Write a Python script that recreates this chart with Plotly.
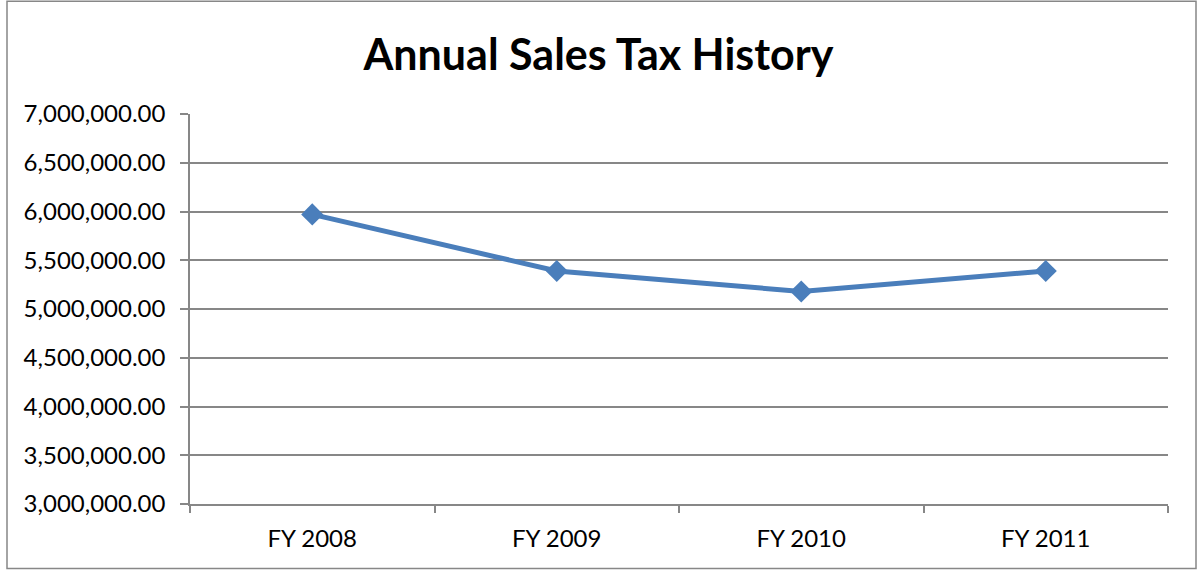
import plotly.graph_objects as go

categories = ["FY 2008", "FY 2009", "FY 2010", "FY 2011"]
sales_tax = [5970000, 5390000, 5180000, 5390000]
y_ticks = [3000000 + 500000 * i for i in range(9)]

W, H = 1197, 571
L, R, T, B = 190, 29, 114, 66.5
pw, ph = W - L - R, H - T - B

fig = go.Figure()
fig.add_trace(go.Scatter(
    x=categories, y=sales_tax, mode="lines+markers",
    line=dict(color="#4A7EBB", width=5),
    marker=dict(symbol="diamond", size=17, color="#4A7EBB"),
    showlegend=False, hoverinfo="x+y",
))

grid = "#878787"
fnt = "Lato, 'Open Sans', sans-serif"
fig.update_layout(
    width=W, height=H,
    margin=dict(l=L, r=R, t=T, b=B, pad=0),
    paper_bgcolor="white", plot_bgcolor="white",
    font=dict(family=fnt, color="#000000", size=24),
    title=dict(text="<b>Annual Sales Tax History</b>", x=0.5, xanchor="center",
               y=1 - 55 / H, yanchor="middle",
               font=dict(size=43, family=fnt, color="#000000")),
    xaxis=dict(type="category", range=[-0.5, len(categories) - 0.5],
               tickson="boundaries", ticks="outside", ticklen=7,
               tickcolor=grid, tickwidth=1.5, showline=True, linecolor=grid, linewidth=1.5,
               showgrid=False, tickfont=dict(size=24), ticklabelstandoff=12,
               fixedrange=True),
    yaxis=dict(range=[3000000, 7000000], tickvals=y_ticks, tickformat=",.2f",
               ticks="outside", ticklen=8, tickcolor=grid, tickwidth=1.5,
               showline=True, linecolor=grid, linewidth=1.5,
               showgrid=True, gridcolor=grid, gridwidth=1.5, zeroline=False,
               ticklabelstandoff=10, tickfont=dict(size=24), fixedrange=True),
    shapes=[dict(type="rect", xref="paper", yref="paper",
                 x0=(7 - L) / pw, x1=(1196 - L) / pw,
                 y0=(H - B - 569) / ph, y1=(H - B - 1) / ph,
                 line=dict(color=grid, width=1.5), fillcolor="rgba(0,0,0,0)", layer="below")],
)

fig.write_html("out.html")
